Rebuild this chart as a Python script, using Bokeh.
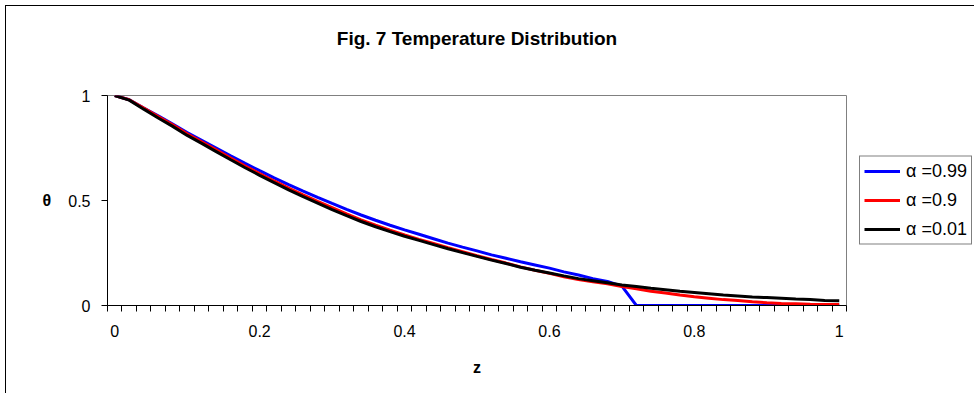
from bokeh.plotting import figure
from bokeh.models import Range1d, FixedTicker, Legend, LegendItem, Title
from bokeh.embed import file_html
from bokeh.resources import INLINE

# ---- data ----
z = [round(0.02 * i, 2) for i in range(51)]

theta_a099 = [1.000, 0.980, 0.940, 0.903, 0.864, 0.824, 0.787, 0.750, 0.713, 0.677,
              0.642, 0.608, 0.576, 0.545, 0.515, 0.486, 0.458, 0.431, 0.406, 0.382,
              0.360, 0.339, 0.318, 0.297, 0.278, 0.260, 0.241, 0.225, 0.208, 0.193,
              0.178, 0.160, 0.145, 0.128, 0.115, 0.092, 0.000, 0.000, 0.000, 0.000,
              0.000, 0.000, 0.000, 0.000, 0.000, 0.000, 0.000, 0.000, 0.000, 0.000,
              0.000]
theta_a09 = [1.000, 0.980, 0.940, 0.900, 0.860, 0.818, 0.780, 0.741, 0.702, 0.664,
             0.628, 0.593, 0.559, 0.527, 0.496, 0.466, 0.436, 0.408, 0.383, 0.359,
             0.336, 0.315, 0.295, 0.275, 0.256, 0.237, 0.219, 0.202, 0.184, 0.168,
             0.153, 0.137, 0.124, 0.113, 0.104, 0.090, 0.080, 0.068, 0.060, 0.050,
             0.042, 0.035, 0.028, 0.024, 0.018, 0.013, 0.010, 0.008, 0.006, 0.005,
             0.005]
theta_a001 = [1.000, 0.978, 0.935, 0.893, 0.853, 0.810, 0.772, 0.733, 0.694, 0.656,
              0.620, 0.585, 0.551, 0.518, 0.488, 0.457, 0.428, 0.400, 0.375, 0.352,
              0.330, 0.310, 0.290, 0.270, 0.252, 0.234, 0.216, 0.200, 0.182, 0.168,
              0.155, 0.141, 0.128, 0.118, 0.108, 0.098, 0.090, 0.082, 0.075, 0.068,
              0.062, 0.056, 0.050, 0.045, 0.040, 0.038, 0.035, 0.031, 0.028, 0.024,
              0.023]

series_labels = ["\u03b1 =0.99", "\u03b1 =0.9", "\u03b1 =0.01"]
series_colors = ["#0000FF", "#FF0000", "#000000"]

x_tick_vals = [0, 0.2, 0.4, 0.6, 0.8, 1]
x_tick_labels = ["0", "0.2", "0.4", "0.6", "0.8", "1"]
y_tick_vals = [0, 0.5, 1]
y_tick_labels = ["0", "0.5", "1"]

title_text = "Fig. 7 Temperature Distribution"
x_title = "z"
y_title = "\u03b8"

FONT = "Liberation Sans"

# ---- figure ----
step = z[1] - z[0]
p = figure(output_backend="svg", toolbar_location=None, title=None,
           x_range=Range1d(z[0] - step / 2, z[-1] + step / 2),
           y_range=Range1d(0, 1),
           frame_width=739, frame_height=210,
           min_border_left=101, min_border_right=125,
           min_border_top=89, min_border_bottom=88)
p.styles = {"margin-left": "5px", "margin-top": "5px",
            "border-left": "1px solid black", "border-top": "1px solid black"}
p.background_fill_color = "white"
p.border_fill_color = "white"
p.outline_line_color = "#808080"
p.outline_line_width = 1
p.xgrid.visible = False
p.ygrid.visible = False

# spacer (nearest the frame), then the real title above it
p.add_layout(Title(text=" ", text_font_size="10px", standoff=34), "above")
p.add_layout(Title(text=title_text, align="center", vertical_align="bottom",
                   text_font=FONT, text_font_size="19px", text_font_style="bold",
                   text_color="black", standoff=0), "above")

renderers = []
for ys, col in zip([theta_a099, theta_a09, theta_a001], series_colors):
    r = p.line(z, ys, line_color=col, line_width=3)
    renderers.append(r)

# x axis: ticks at category boundaries, labels at centres
bounds = [z[0] - step / 2 + step * k for k in range(len(z) + 1)]
p.xaxis.ticker = FixedTicker(ticks=x_tick_vals, minor_ticks=bounds)
p.xaxis.major_label_overrides = {v: t for v, t in zip(x_tick_vals, x_tick_labels)}
p.xaxis.major_tick_out = 0
p.xaxis.major_tick_in = 0
p.xaxis.minor_tick_out = 6
p.xaxis.minor_tick_in = 0
p.xaxis.minor_tick_line_color = "black"
p.xaxis.major_label_standoff = 13
p.xaxis.axis_label = x_title
p.xaxis.axis_label_standoff = 19

p.yaxis.ticker = FixedTicker(ticks=y_tick_vals, minor_ticks=[])
p.yaxis.major_label_overrides = {v: t for v, t in zip(y_tick_vals, y_tick_labels)}
p.yaxis.major_tick_out = 6
p.yaxis.major_tick_in = 0
p.yaxis.minor_tick_out = 0
p.yaxis.minor_tick_in = 0
p.yaxis.major_label_standoff = 11
p.yaxis.axis_label = y_title
p.yaxis.axis_label_standoff = 14
if "axis_label_orientation" in p.yaxis[0].properties():
    p.yaxis.axis_label_orientation = "horizontal"

for ax in (p.xaxis, p.yaxis):
    ax.axis_line_color = "black"
    ax.axis_line_width = 1
    ax.major_tick_line_color = "black"
    ax.major_label_text_font = FONT
    ax.major_label_text_font_size = "16px"
    ax.major_label_text_color = "black"
    ax.axis_label_text_font = FONT
    ax.axis_label_text_font_size = "16px"
    ax.axis_label_text_font_style = "bold"
    ax.axis_label_text_color = "black"

legend = Legend(items=[LegendItem(label=l, renderers=[r]) for l, r in zip(series_labels, renderers)],
                location="left", border_line_color="black", border_line_width=1,
                label_text_font=FONT, label_text_font_size="18px", label_text_color="black",
                glyph_width=36, glyph_height=21, label_height=21, spacing=8,
                padding=4, margin=13, label_standoff=6)
p.add_layout(legend, "right")

open("out.html", "w").write(file_html(p, INLINE))
